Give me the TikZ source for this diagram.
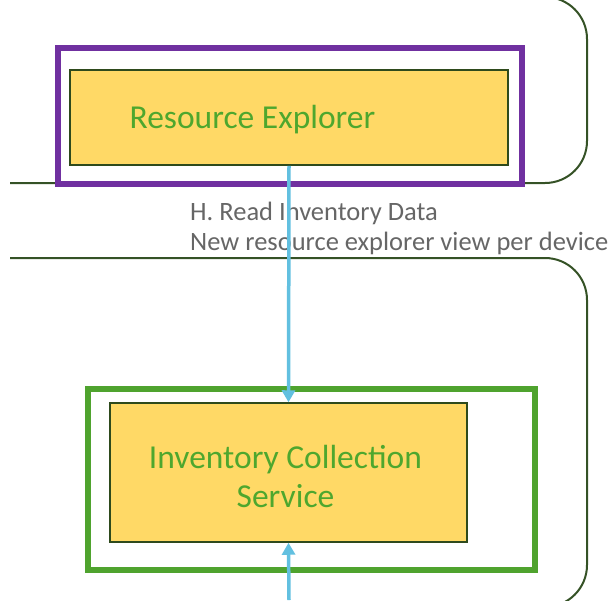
\documentclass[tikz,border=0pt]{standalone}
\usepackage{fontspec}
\setmainfont{Carlito}
\usetikzlibrary{arrows.meta,calc}
\definecolor{boxyellow}{HTML}{FFD966}
\definecolor{boxedge}{HTML}{2E4A1C}
\definecolor{txtgreen}{HTML}{4EA72E}
\definecolor{purp}{HTML}{7030A0}
\definecolor{grn}{HTML}{4FA32E}
\definecolor{contline}{HTML}{355226}
\definecolor{flow}{HTML}{62C0E0}
\definecolor{lblgray}{HTML}{666666}
\tikzset{
  container/.style={draw=contline, line width=2pt, rounded corners=42pt},
  outerbox/.style={draw, line width=6pt, fill=white, inner sep=0pt},
  innerbox/.style={draw=boxedge, line width=1.5pt, fill=boxyellow, inner sep=0pt},
  title/.style={text=txtgreen, font=\fontsize{33.5}{39}\selectfont, align=center, inner sep=0pt},
  flowarrow/.style={draw=flow, line width=3.5pt, -{Triangle[length=12pt,width=13pt]}},
  flowlabel/.style={text=lblgray, font=\fontsize{26.5}{30}\selectfont, inner sep=0pt, anchor=base west}
}
\begin{document}
\begin{tikzpicture}[x=1pt,y=-1pt]
\useasboundingbox (0,0) rectangle (610,600);
% containers
\draw[container] (10,183) -- (587,183) -- (587,-3) -- (450,-3);
\draw[container] (10,258) -- (587,258) -- (587,607) -- (450,607);
% boxes
\node[outerbox, draw=purp, minimum width=464pt, minimum height=136pt] (reouter) at (290,116) {};
\node[innerbox, minimum width=438pt, minimum height=95pt] (re) at (289,117.5) {};
\node[title, anchor=base] (retext) at (252.5,128) {Resource Explorer};
\node[outerbox, draw=grn, minimum width=447pt, minimum height=181pt] (icsouter) at (311.5,479.5) {};
\node[innerbox, minimum width=357pt, minimum height=139pt] (ics) at (288.5,472.5) {};
\node[title, anchor=base] (icstext1) at (285.5,468) {Inventory Collection};
\node[title, anchor=base] (icstext2) at (285.5,507) {Service};
% label
\node[flowlabel] (lbl1) at (190,220) {H. Read Inventory Data};
\node[flowlabel] (lbl2) at (190,250) {New resource explorer view per device};
% arrows
\coordinate (bottomin) at (289,600);
\draw[flowarrow] (re.south) -- (ics.north);
\draw[flowarrow] (bottomin) -- (ics.south);
\end{tikzpicture}
\end{document}
